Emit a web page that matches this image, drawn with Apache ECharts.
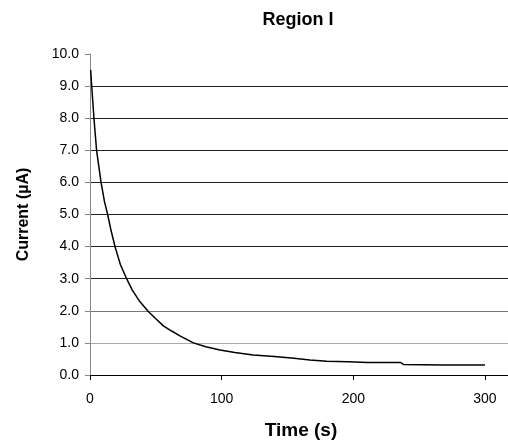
<!DOCTYPE html>
<html>
<head>
<meta charset="utf-8">
<script src="https://cdn.jsdelivr.net/npm/echarts@6/dist/echarts.min.js"></script>
<style>
html,body{margin:0;padding:0;background:#fff;}
#chart{width:508px;height:445px;}
</style>
</head>
<body>
<div id="chart"></div>
<script>
var timeSeconds = [0.5, 1.3, 3, 5, 8.4, 11, 13.4, 16, 19, 23, 27.8, 32, 38, 44.3, 50, 55.7, 62, 68.3, 78.5, 88, 98.7, 110, 124, 140, 155, 167, 180, 196, 211, 236, 238, 268, 300];
var currentMicroA = [9.5, 9.0, 8.0, 7.0, 6.0, 5.4, 5.0, 4.5, 4.0, 3.45, 3.0, 2.65, 2.28, 1.98, 1.75, 1.53, 1.37, 1.22, 1.0, 0.88, 0.78, 0.70, 0.62, 0.58, 0.52, 0.47, 0.43, 0.41, 0.39, 0.39, 0.33, 0.31, 0.31];
var xTicks = [0, 100, 200, 300];
var yTicks = [0, 1, 2, 3, 4, 5, 6, 7, 8, 9, 10];

var points = timeSeconds.map(function (t, i) { return [t, currentMicroA[i]]; });
var font = 'Liberation Sans, Arial, sans-serif';

var chart = echarts.init(document.getElementById('chart'), null, {renderer: 'canvas'});
chart.setOption({
  animation: false,
  backgroundColor: '#fff',
  title: {
    text: 'Region I',
    left: 293,
    top: 6,
    textAlign: 'center',
    textStyle: {fontFamily: font, fontSize: 18, fontWeight: 'bold', color: '#000'}
  },
  grid: {left: 90, top: 54, right: 0, bottom: 69, containLabel: false},
  xAxis: {
    type: 'value',
    min: xTicks[0],
    max: 317.5,
    interval: 100,
    name: 'Time (s)',
    nameLocation: 'middle',
    nameGap: 46,
    nameTextStyle: {fontFamily: font, fontSize: 19, fontWeight: 'bold', color: '#000', padding: [0, 0, 0, 4]},
    axisLine: {onZero: false, lineStyle: {color: '#000', width: 1}},
    axisTick: {show: true, length: 5, lineStyle: {color: '#000'}},
    axisLabel: {fontFamily: font, fontSize: 14, color: '#000', margin: 17, showMaxLabel: false,
      formatter: function (v) { return xTicks.indexOf(v) >= 0 ? String(v) : ''; }},
    splitLine: {show: false}
  },
  yAxis: {
    type: 'value',
    min: yTicks[0],
    max: yTicks[yTicks.length - 1],
    interval: 1,
    name: 'Current (µA)',
    nameLocation: 'middle',
    nameGap: 58,
    nameRotate: 90,
    nameTextStyle: {fontFamily: font, fontSize: 16, fontWeight: 'bold', color: '#000'},
    axisLine: {show: true, lineStyle: {color: '#888', width: 1}},
    axisTick: {show: true, length: 5, lineStyle: {color: '#888'}},
    axisLabel: {fontFamily: font, fontSize: 14, color: '#000', margin: 11,
      formatter: function (v) { return v.toFixed(1); }},
    splitLine: {
      show: true,
      showMaxLine: false,
      lineStyle: {color: ['#000', '#aaa', '#777', '#222', '#222', '#222', '#222', '#222', '#222', '#222', 'rgba(0,0,0,0)'], width: 1}
    }
  },
  series: [{
    type: 'line',
    data: points,
    showSymbol: false,
    symbol: 'none',
    lineStyle: {color: '#000', width: 1.5},
    z: 5
  }]
});
</script>
</body>
</html>
